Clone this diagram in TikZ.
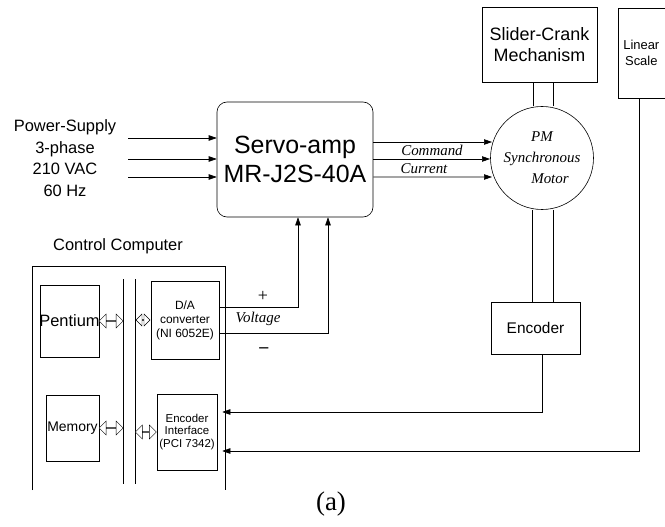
\documentclass[tikz,border=0pt]{standalone}
\usepackage{fontspec}
\setmainfont{Liberation Serif}
\setsansfont{Liberation Sans}
\usetikzlibrary{arrows.meta,positioning,calc,shapes.arrows}
\tikzset{
  blk/.style={draw, rectangle, align=center, font=\sffamily, inner sep=1pt},
  arr/.style={-{Triangle[length=8bp,width=5.5bp]}, semithick},
  dbl/.style={draw, double arrow, inner sep=0pt, minimum width=14bp, minimum height=24bp,
    double arrow head extend=3bp, double arrow head indent=0pt, thin, fill=white},
  sig/.style={font=\fontsize{15}{16}\selectfont\itshape, inner sep=1pt},
  txt/.style={font=\sffamily, align=center, inner sep=0pt},
}
\begin{document}
\begin{tikzpicture}[x=1bp, y=-1bp, line width=0.6bp]
\useasboundingbox (0,0) rectangle (665,527);
% main units
\node[blk, draw, rounded corners=10bp, minimum width=156bp, minimum height=115bp,
  font=\sffamily\fontsize{25}{29}\selectfont] (servo) at (295,159.5) {Servo-amp\\MR-J2S-40A};
\node[draw, circle, minimum size=103bp, inner sep=0pt, align=center,
  font=\fontsize{15}{21}\selectfont\itshape] (motor) at (542,158)
  {PM\\Synchronous\\\hspace*{16bp}Motor};
\node[blk, minimum width=115bp, minimum height=75bp, font=\sffamily\fontsize{18}{21}\selectfont]
  (slider) at (539.5,44.5) {Slider-Crank\\Mechanism};
\node[blk, minimum width=62bp, minimum height=90bp, anchor=north west,
  font=\sffamily\fontsize{13}{16}\selectfont] (scale) at (618,8) {\hspace*{-16bp}Linear\\\hspace*{-16bp}Scale};
\node[blk, minimum width=89bp, minimum height=52bp, font=\sffamily\fontsize{15.5}{17}\selectfont]
  (enc) at (535.5,328) {Encoder};
% power supply
\node[txt, font=\sffamily\fontsize{16.5}{21.5}\selectfont] (psu) at (65,158) {Power-Supply\\3-phase\\210 VAC\\60 Hz};
\coordinate (p1) at (128,138);
\coordinate (p2) at (128,159);
\coordinate (p3) at (128,177);
\draw[arr] (p1) -- (p1 -| servo.west);
\draw[arr] (p2) -- (p2 -| servo.west);
\draw[arr] (p3) -- (p3 -| servo.west);
% servo to motor
\draw[arr] ($(servo.east)+(0,-17.5)$) -- ($(motor.center)+(-50,-16)$);
\draw[arr] ($(servo.east)+(0,-0.5)$) -- ($(motor.center)+(-52,1)$);
\draw[arr] ($(servo.east)+(0,17.5)$) -- ($(motor.center)+(-50,19)$);
\node[sig] (cmd) at (432,150) {Command};
\node[sig] (cur) at (424,169) {Current};
% shafts
\draw (motor.north -| 533,0) -- (slider.south -| 533,0);
\draw (motor.north -| 553,0) -- (slider.south -| 553,0);
\draw (motor.south -| 532,0) -- (enc.north -| 532,0);
\draw (motor.south -| 553,0) -- (enc.north -| 553,0);
% control computer
\node[txt, font=\sffamily\fontsize{16.5}{18}\selectfont] (cc) at (118,246) {Control Computer};
\draw (32,490) -- (32,266) -- (225,266) -- (225,490);
\coordinate (busa) at (123,279);
\coordinate (busb) at (135,279);
\draw (busa) -- ++(0,205);
\draw (busb) -- ++(0,205);
\node[blk, minimum width=59bp, minimum height=72bp, font=\sffamily\fontsize{16.5}{17}\selectfont]
  (cpu) at (69.5,321) {\hspace*{-3bp}Pentium\hspace*{-3bp}};
\node[blk, minimum width=53bp, minimum height=66bp, font=\sffamily\fontsize{14}{15}\selectfont]
  (mem) at (72.5,428) {Memory};
\node[blk, minimum width=68bp, minimum height=78bp, font=\sffamily\fontsize{12}{14}\selectfont]
  (dac) at (185,320) {D/A\\converter\\(NI 6052E)};
\node[blk, minimum width=60bp, minimum height=76bp, font=\sffamily\fontsize{11.5}{13}\selectfont]
  (eif) at (187,432) {Encoder\\Interface\\(PCI 7342)};
\node[dbl] (cpulink) at ($(cpu.east)!0.5!(cpu.east -| busa)$) {};
\node[dbl] (memlink) at ($(mem.east)!0.5!(mem.east -| busa)$) {};
\node[dbl, minimum height=14bp, minimum width=12bp, double arrow head extend=3bp] (daclink) at (143,320) {};
\node[dbl, minimum height=21bp] (eiflink) at ($(eif.west)!0.5!(eif.west -| busb)$) {};
% voltage lines
\coordinate (vp) at (298,307);
\coordinate (vm) at (328,333);
\draw[arr] (vp -| dac.east) -- (vp) -- (vp |- servo.south);
\draw[arr] (vm -| dac.east) -- (vm) -- (vm |- servo.south);
\node[txt, font=\fontsize{18}{18}\selectfont] (plus) at (263,296) {+};
\node[sig] (volt) at (258,319) {Voltage};
\node[txt, font=\fontsize{18}{18}\selectfont] (minus) at (264,350) {\textbf{--}};
% feedback
\coordinate (e1) at (542,412);
\coordinate (e2) at (639,451);
\draw[arr] (enc.south -| e1) -- (e1) -- ($(e1 -| eif.east)+(5,0)$);
\draw[arr] (scale.south -| e2) -- (e2) -- ($(e2 -| eif.east)+(5,0)$);
\node[font=\fontsize{27}{27}\selectfont] (cap) at (331,504) {(a)};
\end{tikzpicture}
\end{document}
